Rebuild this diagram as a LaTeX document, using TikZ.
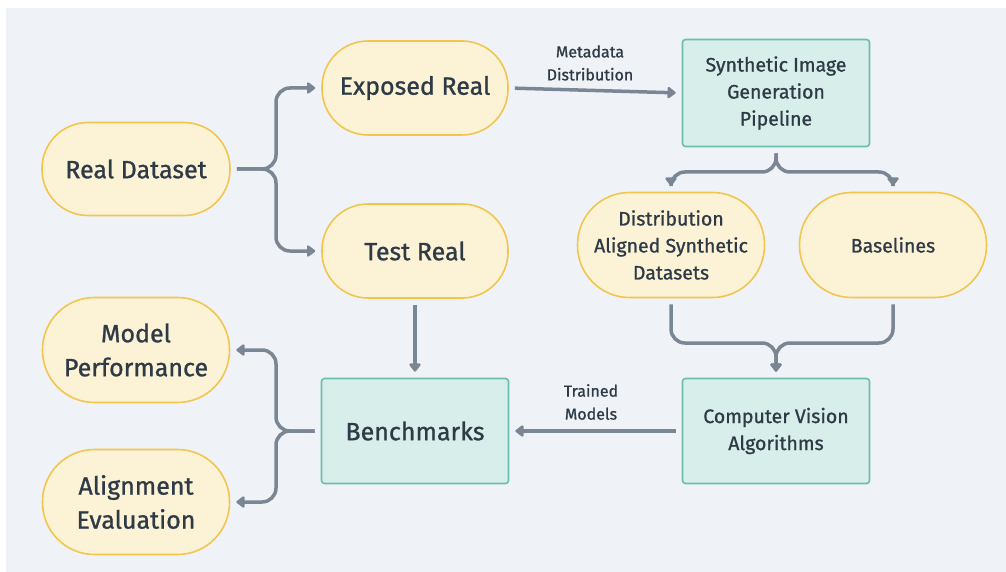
\documentclass[tikz,border=0pt]{standalone}
\usepackage{fontspec}
\setmainfont{Fira Sans}[UprightFeatures={FakeBold=1.0}]
\usetikzlibrary{arrows.meta}
\definecolor{bgc}{HTML}{EFF3F7}
\definecolor{yfill}{HTML}{FCF3D7}
\definecolor{yline}{HTML}{F2C54F}
\definecolor{tfill}{HTML}{D8EEEA}
\definecolor{tline}{HTML}{6CBFAE}
\definecolor{txt}{HTML}{2E3A46}
\definecolor{conn}{HTML}{7A8694}
\tikzset{
  pill/.style={draw=yline, fill=yfill, line width=1.6pt, rounded corners=#1, text=txt, align=center, inner sep=0pt},
  box/.style={draw=tline, fill=tfill, line width=1.6pt, rounded corners=3pt, text=txt, align=center, inner sep=0pt},
  big/.style={font=\fontsize{25}{34}\selectfont},
  mid/.style={font=\fontsize{19.5}{27}\selectfont},
  lab/.style={font=\fontsize{16}{23}\selectfont, text=txt, align=center},
  link/.style={draw=conn, line width=3.5pt, rounded corners=14pt, shorten <=6pt, shorten >=6pt,
    -{Triangle[length=9pt,width=13pt,round]}}
}
\begin{document}
\begin{tikzpicture}[x=1pt,y=-1pt]
\useasboundingbox (0,0) rectangle (1006,572);
\fill[white] (0,0) rectangle (1006,572);
\fill[bgc] (6,8) rectangle (1006,572);

\node[pill=46pt, big, minimum width=188pt, minimum height=93pt] (rd) at (136,169) {Real Dataset};
\node[pill=46pt, big, minimum width=186pt, minimum height=94pt] (er) at (415,88) {Exposed Real};
\node[pill=46pt, big, minimum width=186pt, minimum height=94pt] (tr) at (415,251) {Test Real};
\node[pill=52pt, big, minimum width=187pt, minimum height=105pt] (mp) at (136,350) {Model\\Performance};
\node[pill=52pt, big, minimum width=187pt, minimum height=105pt] (ae) at (136,502) {Alignment\\Evaluation};
\node[box, big, minimum width=187pt, minimum height=105pt] (bm) at (415,431) {Benchmarks};
\node[box, mid, minimum width=187pt, minimum height=107pt] (sg) at (776,93) {Synthetic Image\\Generation\\Pipeline};
\node[pill=52pt, mid, minimum width=187pt, minimum height=105pt] (ds) at (671,245) {Distribution\\Aligned Synthetic\\Datasets};
\node[pill=52pt, mid, minimum width=187pt, minimum height=105pt] (bl) at (893,245) {Baselines};
\node[box, mid, minimum width=187pt, minimum height=105pt] (cv) at (776,431) {Computer Vision\\Algorithms};

\coordinate (j0) at (276,169);
\coordinate (j1) at (776,172);
\coordinate (j2) at (776,343);
\coordinate (j3) at (276,431);

\draw[link] (rd.east) -- (j0) |- (er.west);
\draw[link] (rd.east) -- (j0) |- (tr.west);
\draw[link] (er.east) -- (sg.west);
\draw[link] (tr.south) -- (bm.north);
\draw[link] (sg.south) -- (j1) -| (ds.north);
\draw[link] (sg.south) -- (j1) -| (bl.north);
\draw[link] (ds.south) |- (j2) -- (cv.north);
\draw[link] (bl.south) |- (j2) -- (cv.north);
\draw[link] (cv.west) -- (bm.west -| bm.east);
\draw[link] (bm.west) -- (j3) |- (mp.east);
\draw[link] (bm.west) -- (j3) |- (ae.east);

\node[lab] (l1) at (590,63) {Metadata\\Distribution};
\node[lab] (l2) at (591,402) {Trained\\Models};
\end{tikzpicture}
\end{document}
